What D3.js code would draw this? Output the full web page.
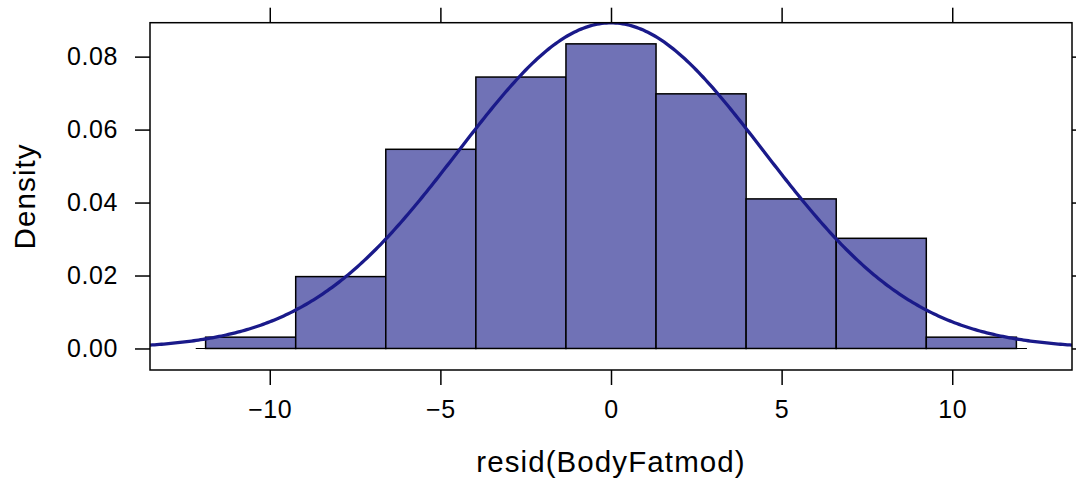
<!DOCTYPE html>
<html>
<head>
<meta charset="utf-8">
<script src="https://cdn.jsdelivr.net/npm/d3@7"></script>
<style>
  body { margin: 0; background: #fff; }
  svg text { font-family: "Liberation Sans", Arial, Helvetica, sans-serif; fill: #000; }
</style>
</head>
<body>
<svg id="chart" width="1076" height="485"></svg>
<script>
// histogram of residuals, lattice style

var binEdges  = [-11.88, -9.24, -6.60, -3.96, -1.32, 1.32, 3.96, 6.60, 9.24, 11.88];
var densities = [0.0031, 0.0197, 0.0546, 0.0744, 0.0835, 0.0698, 0.0410, 0.0302, 0.0031];
var xTicks    = [-10, -5, 0, 5, 10];
var yTicks    = [0.00, 0.02, 0.04, 0.06, 0.08];
var baseRange = [-12.17, 12.19];
var fitMean   = 0;
var fitSd     = 4.47;

var svg    = d3.select("#chart");
var margin = {left: 150, right: 4, top: 22.7, bottom: 115};
var width  = 1076 - margin.left - margin.right;
var height = 485 - margin.top - margin.bottom;

var x = d3.scaleLinear().domain([-13.51, 13.51]).range([0, width]);
var y = d3.scaleLinear().domain([-0.0059, 0.0893]).range([height, 0]);

var g = svg.append("g").attr("transform", "translate(" + margin.left + "," + margin.top + ")");

svg.append("defs").append("clipPath").attr("id", "panel-clip")
   .append("rect").attr("width", width).attr("height", height);

// bars
var bins = densities.map(function(d, i) { return {x0: binEdges[i], x1: binEdges[i + 1], v: d}; });
g.selectAll("rect.bar")
 .data(bins)
 .enter().append("rect")
 .attr("class", "bar")
 .attr("x", function(d) { return x(d.x0); })
 .attr("y", function(d) { return y(d.v); })
 .attr("width", function(d) { return x(d.x1) - x(d.x0); })
 .attr("height", function(d) { return y(0) - y(d.v); })
 .attr("fill", "#7072b6")
 .attr("stroke", "#000")
 .attr("stroke-width", 1.5);

// baseline
g.append("line")
 .attr("x1", x(baseRange[0])).attr("x2", x(baseRange[1]))
 .attr("y1", y(0)).attr("y2", y(0))
 .attr("stroke", "#000").attr("stroke-width", 1.2);

// fitted normal density
var xs = d3.range(0, 401).map(function(i) { return -13.51 + i * 27.02 / 400; });
var line = d3.line()
  .x(function(d) { return x(d); })
  .y(function(d) {
     var z = (d - fitMean) / fitSd;
     return y(Math.exp(-z * z / 2) / (fitSd * Math.sqrt(2 * Math.PI)));
  });
g.append("path")
 .datum(xs)
 .attr("clip-path", "url(#panel-clip)")
 .attr("d", line)
 .attr("fill", "none")
 .attr("stroke", "#1a1a8a")
 .attr("stroke-width", 3.3);

// panel box
g.append("rect")
 .attr("width", width).attr("height", height)
 .attr("fill", "none").attr("stroke", "#000").attr("stroke-width", 1.5);

// axes
var tickLen = 15;
var xb = g.append("g").attr("transform", "translate(0," + height + ")")
  .call(d3.axisBottom(x).tickValues(xTicks).tickSize(tickLen).tickPadding(15)
        .tickFormat(function(d) { return d3.format("")(d).replace("-", "\u2212"); }));
var xt = g.append("g")
  .call(d3.axisTop(x).tickValues(xTicks).tickSize(tickLen).tickFormat(""));
var yl = g.append("g")
  .call(d3.axisLeft(y).tickValues(yTicks).tickSize(tickLen).tickPadding(17).tickFormat(d3.format(".2f")));
var yr = g.append("g").attr("transform", "translate(" + width + ",0)")
  .call(d3.axisRight(y).tickValues(yTicks).tickSize(4).tickFormat(""));

[xb, xt, yl, yr].forEach(function(a) {
  a.select(".domain").remove();
  a.selectAll(".tick line").attr("stroke", "#000").attr("stroke-width", 1.5);
  a.selectAll("text").attr("font-size", 25).attr("font-family", null).attr("letter-spacing", 0.6);
});
xb.selectAll("text").attr("dy", "0.71em");

// axis titles
svg.append("text")
   .attr("x", margin.left + width / 2)
   .attr("y", 472.3)
   .attr("text-anchor", "middle")
   .attr("font-size", 29.5)
   .attr("letter-spacing", 1.1)
   .text("resid(BodyFatmod)");

svg.append("text")
   .attr("transform", "translate(35," + (margin.top + height / 2) + ") rotate(-90)")
   .attr("text-anchor", "middle")
   .attr("font-size", 29.5)
   .attr("letter-spacing", 1.1)
   .text("Density");
</script>
</body>
</html>
